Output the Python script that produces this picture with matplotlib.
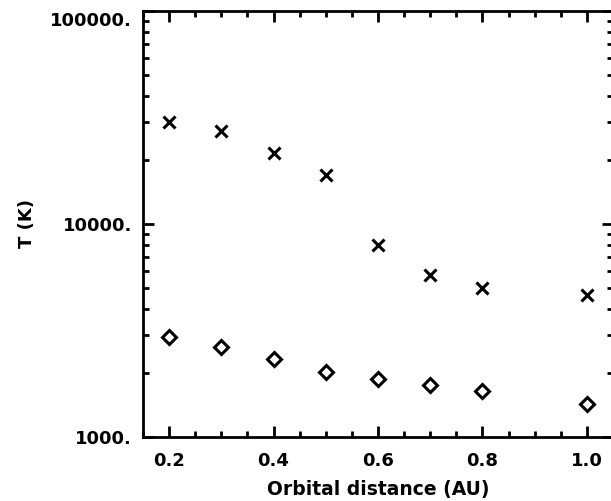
import matplotlib
matplotlib.use("Agg")
import matplotlib.pyplot as plt
import matplotlib.transforms as mtransforms
from matplotlib.ticker import FixedLocator, MultipleLocator, LogLocator, FixedFormatter, NullFormatter

# Orbital distance (AU) and temperatures (K)
distance = [0.2, 0.3, 0.4, 0.5, 0.6, 0.7, 0.8, 1.0]
t_high = [30200, 27300, 21600, 16900, 7970, 5760, 5020, 4640]
t_low = [2940, 2650, 2330, 2010, 1870, 1750, 1640, 1430]

x_ticks = [0.2, 0.4, 0.6, 0.8, 1.0]
x_ticklabels = ['0.2', '0.4', '0.6', '0.8', '1.0']
y_ticks = [1000, 10000, 100000]
y_ticklabels = ['1000.', '10000.', '100000.']

plt.rcParams['font.family'] = 'DejaVu Sans'
plt.rcParams['font.weight'] = 'bold'

fig = plt.figure(figsize=(6.11, 5.01), dpi=100)
ax = fig.add_axes([143 / 611, 1 - 437 / 501, 470 / 611, 426 / 501])

ax.plot(distance, t_high, linestyle='none', marker='x', markersize=9,
        markeredgewidth=2.2, color='black')
ax.plot(distance, t_low, linestyle='none', marker='D', markersize=7.5,
        markeredgewidth=2.2, markerfacecolor='none', markeredgecolor='black')

ax.set_yscale('log')
ax.set_xlim(0.15, 1.05)
ax.set_ylim(1000, 100000)

ax.xaxis.set_major_locator(FixedLocator(x_ticks))
ax.xaxis.set_major_formatter(FixedFormatter(x_ticklabels))
ax.xaxis.set_minor_locator(MultipleLocator(0.05))
ax.yaxis.set_major_locator(FixedLocator(y_ticks))
ax.yaxis.set_major_formatter(FixedFormatter(y_ticklabels))
ax.yaxis.set_minor_locator(LogLocator(base=10, subs=range(2, 10)))
ax.yaxis.set_minor_formatter(NullFormatter())

for s in ax.spines.values():
    s.set_linewidth(2.0)

ax.tick_params(which='both', direction='in', top=True, right=True, width=2.0,
               labelsize=13, color='black')
ax.tick_params(which='major', length=8)
ax.tick_params(which='minor', length=4)
ax.tick_params(axis='x', pad=11)
ax.tick_params(axis='y', pad=8)

ax.set_xlabel('Orbital distance (AU)', fontsize=13.5, fontweight='bold', labelpad=7)
ax.set_ylabel('T (K)', fontsize=13, fontweight='bold', labelpad=10)

# nudge the top y label down so it sits inside the figure
fig.canvas.draw()
top_lbl = ax.yaxis.get_majorticklabels()[-1]
top_lbl.set_transform(top_lbl.get_transform() +
                      mtransforms.ScaledTranslation(0, -6 / 72, fig.dpi_scale_trans))

fig.savefig('out.png', dpi=100)
